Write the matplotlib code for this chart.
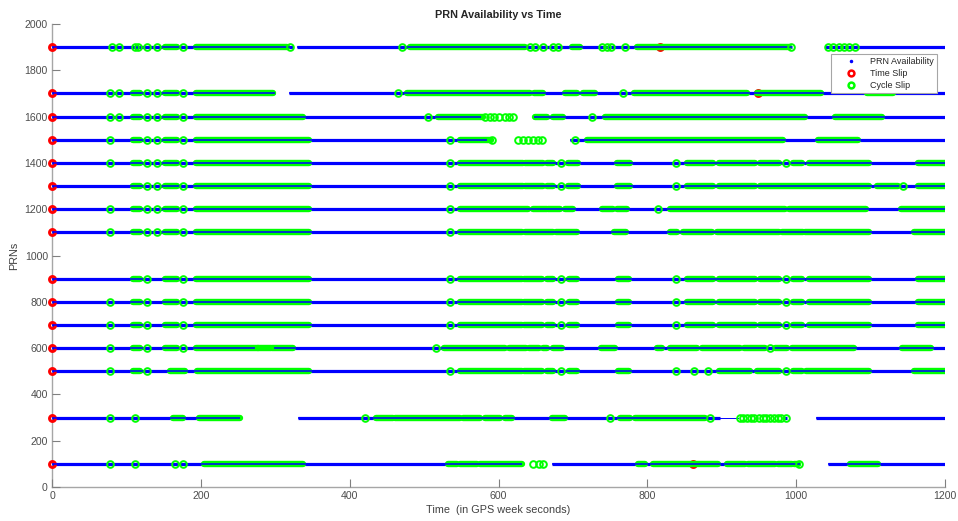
import matplotlib
matplotlib.use("Agg")
import matplotlib.pyplot as plt
from matplotlib.lines import Line2D

plt.rcParams['font.family'] = ['Liberation Sans', 'DejaVu Sans']

# ---------------- data ----------------
prns = [1900, 1700, 1600, 1500, 1400, 1300, 1200, 1100, 900, 800, 700, 600, 500, 300, 100]
x_ticks = [0, 200, 400, 600, 800, 1000, 1200]
y_ticks = [0, 200, 400, 600, 800, 1000, 1200, 1400, 1600, 1800, 2000]

# availability intervals (start, end) in GPS week seconds
avail_1900 = [(0, 324.3), (329.6, 994), (1038.5, 1200)]
avail_1700 = [(0, 299.7), (319, 1200)]
avail_1600 = [(0, 577), (648, 1200)]
avail_1500 = [(0, 584), (696, 1200)]
avail_1400 = [(0, 1200)]
avail_1300 = [(0, 1200)]
avail_1200 = [(0, 1200)]
avail_1100 = [(0, 1200)]
avail_900 = [(0, 1200)]
avail_800 = [(0, 1200)]
avail_700 = [(0, 1200)]
avail_600 = [(0, 1200)]
avail_500 = [(0, 1200)]
avail_300 = [(0, 252.6), (330, 898), (983, 988), (1026.2, 1200)]
avail_100 = [(0, 631), (671.5, 1005), (1043.2, 1200)]
sparse_avail_300 = [(898, 922)]

# time slips
tslip_1900 = [0, 817]
tslip_1700 = [0, 949]
tslip_1600 = [0]
tslip_1500 = [0]
tslip_1400 = [0]
tslip_1300 = [0]
tslip_1200 = [0]
tslip_1100 = [0]
tslip_900 = [0]
tslip_800 = [0]
tslip_700 = [0]
tslip_600 = [0]
tslip_500 = [0]
tslip_300 = [0]
tslip_100 = [0, 861.8]

# isolated cycle slips
cslip_1900 = [80.2, 90.5, 111.5, 116, 128.1, 141.5, 176.5, 319.8, 470, 642.3, 649, 660.2,
              673.7, 680.4, 738.6, 745.3, 750.7, 770, 992.6, 1043, 1050, 1057, 1064, 1071, 1079]
cslip_1700 = [78, 90.5, 128.1, 141.5, 176.5, 465.4, 766.8]
cslip_1600 = [78, 90.5, 128.1, 141.5, 176.5, 505.7, 582, 588, 594, 600, 609, 614.5, 619, 725]
cslip_1500 = [78, 128.1, 141.5, 176.5, 534.8, 591, 626.6, 633.3, 640, 646.8, 653.5, 658.9, 702.8]
cslip_1400 = [78, 128.1, 141.5, 176.5, 535, 684, 838, 986.3]
cslip_1300 = [128.1, 141.5, 176.5, 535, 684, 838, 1143]
cslip_1200 = [78, 128.1, 141.5, 176.5, 535, 814.8]
cslip_1100 = [78, 128.1, 141.5, 176.5, 535]
cslip_900 = [128.1, 176.5, 535, 684, 838, 986.3]
cslip_800 = [78, 128.1, 176.5, 535, 684, 838, 986.3]
cslip_700 = [78, 128.1, 176.5, 535, 684, 838, 986.3]
cslip_600 = [78, 128.1, 176.5, 516, 965.5]
cslip_500 = [78, 128.1, 535, 684, 838, 862.7, 882, 986.3]
cslip_300 = [78, 111.5, 420.6, 749.8, 884, 924, 929, 934, 939, 944, 950, 955, 960,
             965, 970, 975, 980, 986]
cslip_100 = [78, 111.5, 165, 175.6, 647, 654, 660, 1004]

# dense bursts of cycle slips (start, end)
burst_1900 = [(152, 167.5), (193.5, 316), (481, 635.6), (698.4, 709.5), (785.7, 990)]
burst_1700 = [(109.3, 118.3), (152, 167.5), (193.5, 297), (476.6, 642), (648, 660),
              (689.4, 706), (714, 729.7), (782, 933.5), (947, 1034), (1094.8, 1130.5)]
burst_1600 = [(109.3, 118.3), (152, 167.5), (193.5, 337.7), (519, 579.6), (649, 664.7),
              (673.7, 687), (743, 1012), (1052.2, 1115)]
burst_1500 = [(109.3, 118.3), (152, 167.5), (193.5, 345.8), (548, 590), (718.5, 981.8),
              (1029.8, 1083.5)]
burst_1400 = [(109.3, 118.3), (152, 167.5), (193.5, 345.8), (548, 633.3), (635.6, 660.2),
              (664.7, 673.7), (693.8, 707.3), (758.8, 776.7), (853.7, 887.8), (896, 944.7),
              (951.4, 977.3), (995.3, 1007.4), (1017.3, 1098.3), (1163.3, 1200)]
burst_1300 = [(109.3, 118.3), (152, 167.5), (193.5, 345.8), (548, 633.3), (635.6, 660.2),
              (664.7, 673.7), (693.8, 707.3), (758.8, 776.7), (853.7, 887.8), (896, 944.7),
              (951.4, 1098.3), (1108, 1137), (1163.3, 1200)]
burst_1200 = [(109.3, 118.3), (152, 167.5), (193.5, 345.8), (548, 640), (646.8, 664.7),
              (667, 682.7), (689.4, 700.6), (738.6, 754.2), (758.8, 772.2), (830.5, 985),
              (990.8, 1093.9), (1140.4, 1200)]
burst_1100 = [(109.3, 118.3), (152, 167.5), (193.5, 345.8), (548, 631), (635.6, 673.7),
              (677.3, 706), (755, 771.3), (830.5, 839.5), (848.4, 886.5), (893.2, 977.3),
              (981.6, 1009.8), (1011.9, 1098.3), (1158.4, 1200)]
burst_900 = [(109.3, 118.3), (152, 167.5), (193.5, 345.8), (548, 631), (634.7, 658),
             (664.7, 673.7), (695, 706), (760, 775.8), (853.7, 887.8), (896, 944.7),
             (951.4, 977.3), (995.3, 1007.4), (1017.3, 1098.3), (1163.3, 1200)]
burst_800 = [(109.3, 118.3), (152, 167.5), (193.5, 345.8), (548, 631), (634.7, 658),
             (664.7, 673.7), (695, 706), (760, 775.8), (853.7, 887.8), (896, 944.7),
             (951.4, 977.3), (995.3, 1007.4), (1017.3, 1098.3), (1163.3, 1200)]
burst_700 = [(109.3, 118.3), (152, 167.5), (193.5, 345.8), (548, 631), (634.7, 658),
             (664.7, 673.7), (695, 706), (760, 775.8), (853.7, 887.8), (896, 944.7),
             (951.4, 977.3), (995.3, 1007.4), (1017.3, 1098.3), (1163.3, 1200)]
burst_600 = [(109.3, 118.3), (152, 167.5), (193.5, 277), (295, 324.3), (526.8, 608.7),
             (614.5, 637), (641.4, 654.8), (660, 665.6), (672.8, 685), (737.3, 756.6),
             (812.6, 819.3), (830.5, 866.3), (873.5, 924.5), (930, 958), (971.6, 987.2),
             (994, 1077.8), (1141.8, 1180.8)]
burst_500 = [(109.3, 118.3), (158.6, 178.7), (195.3, 345.8), (548, 631), (634.7, 658),
             (664.7, 673.7), (695, 706), (760, 775.8), (896, 938), (947, 977.3),
             (995.3, 1007.4), (1013, 1098.3), (1158.4, 1200)]
burst_300 = [(163, 176.5), (198, 252.6), (436, 458.6), (461, 548), (552.7, 575), (582, 602),
             (608.7, 617.7), (671.5, 689.4), (763, 776.7), (783.4, 877.5)]
burst_100 = [(204.3, 337.7), (532.6, 543.8), (548, 570.7), (575, 631), (787.9, 796.9),
             (807.2, 895.4), (907.5, 931.3), (935.7, 971.6), (976, 994), (997, 1003),
             (1072.4, 1110.4)]
# bursts so dense they hide the availability line
cover_600 = [(277, 294)]

avail = {1900: avail_1900, 1700: avail_1700, 1600: avail_1600, 1500: avail_1500,
         1400: avail_1400, 1300: avail_1300, 1200: avail_1200, 1100: avail_1100,
         900: avail_900, 800: avail_800, 700: avail_700, 600: avail_600,
         500: avail_500, 300: avail_300, 100: avail_100}
tslips = {1900: tslip_1900, 1700: tslip_1700, 1600: tslip_1600, 1500: tslip_1500,
          1400: tslip_1400, 1300: tslip_1300, 1200: tslip_1200, 1100: tslip_1100,
          900: tslip_900, 800: tslip_800, 700: tslip_700, 600: tslip_600,
          500: tslip_500, 300: tslip_300, 100: tslip_100}
cslips = {1900: cslip_1900, 1700: cslip_1700, 1600: cslip_1600, 1500: cslip_1500,
          1400: cslip_1400, 1300: cslip_1300, 1200: cslip_1200, 1100: cslip_1100,
          900: cslip_900, 800: cslip_800, 700: cslip_700, 600: cslip_600,
          500: cslip_500, 300: cslip_300, 100: cslip_100}
bursts = {1900: burst_1900, 1700: burst_1700, 1600: burst_1600, 1500: burst_1500,
          1400: burst_1400, 1300: burst_1300, 1200: burst_1200, 1100: burst_1100,
          900: burst_900, 800: burst_800, 700: burst_700, 600: burst_600,
          500: burst_500, 300: burst_300, 100: burst_100}

# ---------------- drawing ----------------
BLUE = '#0000ff'
GREEN = '#00ff00'
RED = '#ff0000'

fig = plt.figure(figsize=(9.58, 5.21), dpi=100)
ax = fig.add_axes([52 / 958, 34 / 521, 893 / 958, 463 / 521])

for p in prns:
    # availability (thick)
    for s, e in avail[p]:
        ax.plot([s, e], [p, p], color=BLUE, lw=2.3, solid_capstyle='butt', zorder=3)
    # time slips (plotted before the cycle slips, which cover them)
    ax.plot(tslips[p], [p] * len(tslips[p]), ls='none', marker='o', mfc='none',
            mec=RED, ms=4.3, mew=2.1, zorder=3.5, clip_on=False)
    # dense cycle-slip bursts
    for s, e in bursts[p]:
        ax.plot([s, e], [p, p], color=GREEN, lw=4.6, solid_capstyle='round', zorder=4)
    # availability seen through the hollow markers
    for s, e in avail[p]:
        ax.plot([s, e], [p, p], color=BLUE, lw=1.1, solid_capstyle='butt', zorder=4.5)
    # isolated cycle slips
    ax.plot(cslips[p], [p] * len(cslips[p]), ls='none', marker='o', mfc='none',
            mec=GREEN, ms=4.8, mew=1.4, zorder=5)

for s, e in sparse_avail_300:
    ax.plot([s, e], [300, 300], color=BLUE, lw=0.7, zorder=4.6)
for s, e in cover_600:
    ax.plot([s, e], [600, 600], color=GREEN, lw=4.6, solid_capstyle='round', zorder=4.7)

ax.set_xlim(0, 1200)
ax.set_ylim(0, 2000)
ax.set_xticks(x_ticks)
ax.set_yticks(y_ticks)

for side in ('top', 'right'):
    ax.spines[side].set_visible(False)
for side in ('left', 'bottom'):
    ax.spines[side].set_color('#a6a6a6')
    ax.spines[side].set_linewidth(1.0)
    ax.spines[side].set_zorder(0.5)
ax.tick_params(direction='in', length=6, width=0.8, color='#808080',
               labelsize=7.6, labelcolor='#4d4d4d', pad=3)

ax.set_title('PRN Availability vs Time', fontsize=7.8, fontweight='bold',
             color='#262626', pad=4)
ax.set_xlabel('Time  (in GPS week seconds)', fontsize=7.8, color='#404040', labelpad=3)
ax.set_ylabel('PRNs', fontsize=7.8, color='#404040', labelpad=4)

handles = [
    Line2D([], [], ls='none', marker='.', color=BLUE, ms=3),
    Line2D([], [], ls='none', marker='o', mfc='none', mec=RED, ms=4.2, mew=1.8),
    Line2D([], [], ls='none', marker='o', mfc='none', mec=GREEN, ms=4.2, mew=1.8),
]
leg = ax.legend(handles, ['PRN Availability', 'Time Slip', 'Cycle Slip'],
                loc='upper right', bbox_to_anchor=(0.991, 0.935), borderaxespad=0,
                fontsize=6.5, frameon=True, fancybox=False, framealpha=1,
                edgecolor='#a6a6a6', handlelength=3.8, handletextpad=0.2,
                borderpad=0.35, labelspacing=0.3)
leg.get_frame().set_linewidth(0.8)
leg.set_zorder(10)
for t in leg.get_texts():
    t.set_color('#262626')

fig.savefig('out.png', dpi=100, facecolor='white')
